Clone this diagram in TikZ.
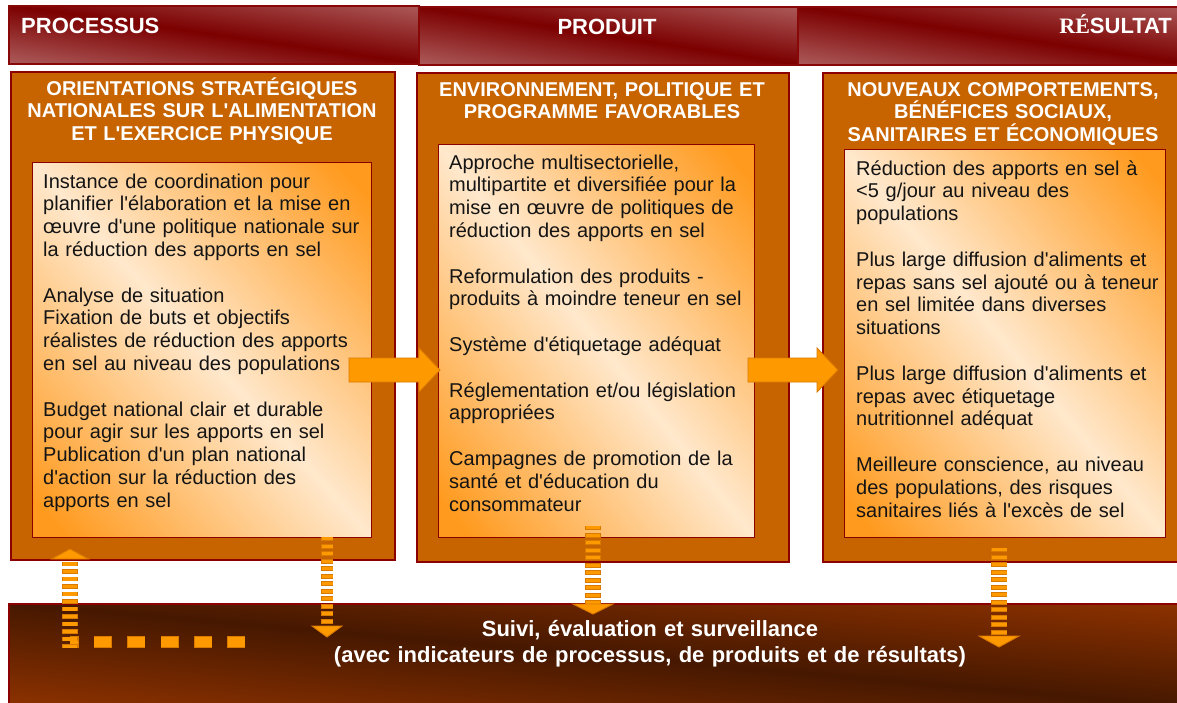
\documentclass[tikz,border=0pt]{standalone}
\usepackage{fontspec}
\setmainfont{Liberation Sans}[Ligatures=TeXOff]
\newfontfamily\accentserif{Liberation Serif}[Ligatures=TeXOff]
\usetikzlibrary{calc}

\definecolor{hdrdark}{HTML}{7C0000}
\definecolor{hdrlight}{HTML}{AC5A5A}
\definecolor{hdrline}{HTML}{880808}
\definecolor{colfill}{HTML}{C86400}
\definecolor{boxline}{HTML}{8B0000}
\definecolor{innerlight}{HTML}{FFE8CC}
\definecolor{innerorange}{HTML}{FF9A1E}
\definecolor{arrowfill}{HTML}{FF9900}
\definecolor{arrowline}{HTML}{D97A00}
\definecolor{bandlight}{HTML}{8E3200}
\definecolor{banddark}{HTML}{461800}
\definecolor{bodyink}{HTML}{141414}

% glossy fill of a rectangle: #1,#2 top-left corner, #3 width, #4 height,
% #5 corner colour, #6 colour along the falling diagonal, #7 spread factor
\newcommand\glossfill[7]{%
  \pgfmathsetmacro\glossangle{-atan(#4/#3)}%
  \pgfmathsetmacro\glosshalflen{veclen(#3,#4)/2+6}%
  \pgfmathsetmacro\glosshalfwid{#7*#4/veclen(1,#4/#3)}%
  \begin{scope}
    \clip (#1,#2) rectangle ++(#3,#4);
    \fill[#5] (#1,#2) rectangle ++(#3,#4);
    \begin{scope}[transform canvas={shift={({#1+#3/2},{#2+#4/2})}, rotate=\glossangle}]
      \shade[top color=#5, bottom color=#5, middle color=#6]
        (-\glosshalflen,-\glosshalfwid) rectangle (\glosshalflen,\glosshalfwid);
    \end{scope}
  \end{scope}}
% block arrow: #1 start of shaft, #2 tip
\newcommand\drawblockarrow[2]{%
  \filldraw[blockarrow] ($(#1)+(0,-12)$) -- ($(#2)+(-21,-12)$) -- ($(#2)+(-21,-22)$)
    -- (#2) -- ($(#2)+(-21,22)$) -- ($(#2)+(-21,12)$) -- ($(#1)+(0,12)$) -- cycle;}
% triangular head of a striped arrow: #1 base centre, #2 half width, #3 signed length
\newcommand\stripehead[3]{%
  \filldraw[blockarrow] ($(#1)+(-#2,0)$) -- ($(#1)+(#2,0)$) -- ($(#1)+(0,#3)$) -- cycle;}

\begin{document}
\begin{tikzpicture}[x=1pt,y=-1pt,
  banner/.style={draw=hdrline, line width=1.5pt, minimum height=58pt, inner sep=0pt, anchor=north west},
  bannertext/.style={text=white, font=\fontsize{22}{26}\selectfont\bfseries, inner sep=0pt},
  colbox/.style={draw=boxline, line width=1.8pt, fill=colfill, inner sep=0pt, anchor=north west},
  innerbox/.style={draw=boxline, line width=1.4pt, inner sep=0pt, anchor=north west},
  titletext/.style={text=white, font=\fontsize{20}{22.6}\selectfont\bfseries, inner sep=0pt,
    text width=380pt, align=center, anchor=base},
  bodytext/.style={text=bodyink, font=\fontsize{20}{22.8}\selectfont, inner sep=0pt,
    text width=350pt, align=left, anchor=base west},
  bottomband/.style={draw=boxline, line width=1.5pt, inner sep=0pt, anchor=north west},
  bottomtext/.style={text=white, font=\fontsize{22}{26.5}\selectfont\bfseries, inner sep=0pt,
    text width=900pt, align=center, anchor=base},
  blockarrow/.style={fill=arrowfill, draw=arrowline, line width=0.9pt, line join=miter},
  stripeedge/.style={draw=arrowline, line width=#1, dash pattern=on 4.6pt off 2.9pt, dash phase=0.6pt},
  stripecore/.style={draw=arrowfill, line width=#1, dash pattern=on 3.4pt off 4.1pt},
  dashedge/.style={draw=arrowline, line width=11.2pt, dash pattern=on 18.2pt off 15.2pt, dash phase=0.6pt},
  dashcore/.style={draw=arrowfill, line width=10pt, dash pattern=on 17pt off 16.4pt}
]
\clip (0,0) rectangle (1177,702);
\fill[white] (0,0) rectangle (1177,702);

% stage banners
\glossfill{8}{5}{410}{58}{hdrlight}{hdrdark}{1}
\glossfill{418}{6}{379}{58}{hdrlight}{hdrdark}{1}
\glossfill{797}{6}{395}{58}{hdrlight}{hdrdark}{1}
\node[banner, minimum width=410pt] (hProc) at (8,5) {};
\node[banner, minimum width=379pt] (hProd) at (418,6) {};
\node[banner, minimum width=395pt] (hRes) at (797,6) {};
\node[bannertext, anchor=base west] (lProc) at (21,33) {PROCESSUS};
\node[bannertext, anchor=base] (lProd) at (607,34) {PRODUIT};
\node[bannertext, anchor=base east] (lRes) at (1172,33) {{\accentserif RÉ}SULTAT};

% monitoring band
\glossfill{8}{603}{1185}{104}{bandlight}{banddark}{1}
\node[bottomband, minimum width=1185pt, minimum height=104pt] (bot) at (8,603) {};
\node[bottomtext] (botText) at (650,636)
  {Suivi, évaluation et surveillance\\(avec indicateurs de processus, de produits et de résultats)};

% columns
\node[colbox, minimum width=384pt, minimum height=488pt] (c1) at (10,71) {};
\node[colbox, minimum width=372pt, minimum height=489pt] (c2) at (416,72) {};
\node[colbox, minimum width=372pt, minimum height=489pt] (c3) at (822,72) {};

\node[titletext] (t1) at (202,95) {ORIENTATIONS STRATÉGIQUES\\NATIONALES SUR L'ALIMENTATION\\ET L'EXERCICE PHYSIQUE};
\node[titletext] (t2) at (602,96) {ENVIRONNEMENT, POLITIQUE ET\\PROGRAMME FAVORABLES};
\node[titletext] (t3) at (1003,96) {NOUVEAUX COMPORTEMENTS,\\BÉNÉFICES SOCIAUX,\\SANITAIRES ET ÉCONOMIQUES};

\glossfill{32}{162}{339}{375}{innerorange}{innerlight}{0.9}
\glossfill{438}{144}{316}{393}{innerorange}{innerlight}{0.9}
\glossfill{844}{149}{321}{388}{innerorange}{innerlight}{0.9}
\node[innerbox, minimum width=339pt, minimum height=375pt] (i1) at (32,162) {};
\node[innerbox, minimum width=316pt, minimum height=393pt] (i2) at (438,144) {};
\node[innerbox, minimum width=321pt, minimum height=388pt] (i3) at (844,149) {};

\node[bodytext] (b1) at (43,188) {Instance de coordination pour\\planifier l'élaboration et la mise en\\œuvre d'une politique nationale sur\\la réduction des apports en sel\\[22.8pt]Analyse de situation\\Fixation de buts et objectifs\\réalistes de réduction des apports\\en sel au niveau des populations\\[22.8pt]Budget national clair et durable\\pour agir sur les apports en sel\\Publication d'un plan national\\d'action sur la réduction des\\apports en sel};
\node[bodytext] (b2) at (449,169) {Approche multisectorielle,\\multipartite et diversifiée pour la\\mise en œuvre de politiques de\\réduction des apports en sel\\[22.8pt]Reformulation des produits -\\produits à moindre teneur en sel\\[22.8pt]Système d'étiquetage adéquat\\[22.8pt]Réglementation et/ou législation\\appropriées\\[22.8pt]Campagnes de promotion de la\\santé et d'éducation du\\consommateur};
\node[bodytext] (b3) at (856,175) {Réduction des apports en sel à\\<5 g/jour au niveau des\\populations\\[22.8pt]Plus large diffusion d'aliments et\\repas sans sel ajouté ou à teneur\\en sel limitée dans diverses\\situations\\[22.8pt]Plus large diffusion d'aliments et\\repas avec étiquetage\\nutritionnel adéquat\\[22.8pt]Meilleure conscience, au niveau\\des populations, des risques\\sanitaires liés à l'excès de sel};

% flow between the columns
\coordinate (fa1) at (349,370);
\coordinate (fa1tip) at (440,370);
\coordinate (fa2) at (748,370);
\coordinate (fa2tip) at (838,370);
\drawblockarrow{fa1}{fa1tip}
\drawblockarrow{fa2}{fa2tip}

% feedback from monitoring to the process column
\coordinate (fbStart) at (245,642);
\coordinate (fbCorner) at (70,642);
\coordinate (fbBottom) at (70,648);
\coordinate (fbHead) at (70,559);
\draw[dashedge] (fbStart) -- (fbCorner);
\draw[dashcore] (fbStart) -- (fbCorner);
\draw[stripeedge=15.2pt] (fbBottom) -- (fbHead);
\draw[stripecore=14pt] (fbBottom) -- (fbHead);
\stripehead{fbHead}{18.5}{-10}

% links from each column down to monitoring
\coordinate (mB) at (327,537);
\coordinate (mBhead) at (327,626);
\draw[stripeedge=12.2pt] (mB) -- (mBhead);
\draw[stripecore=11pt] (mB) -- (mBhead);
\stripehead{mBhead}{15}{11}

\coordinate (mC) at (593,526);
\coordinate (mChead) at (593,604);
\draw[stripeedge=15.2pt] (mC) -- (mChead);
\draw[stripecore=14pt] (mC) -- (mChead);
\stripehead{mChead}{20}{10}

\coordinate (mD) at (999,548);
\coordinate (mDhead) at (999,636);
\draw[stripeedge=16.2pt] (mD) -- (mDhead);
\draw[stripecore=15pt] (mD) -- (mDhead);
\stripehead{mDhead}{20}{11}
\end{tikzpicture}
\end{document}
